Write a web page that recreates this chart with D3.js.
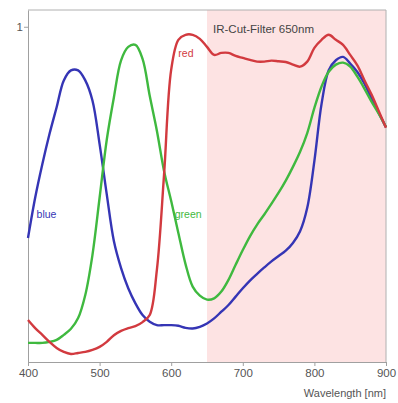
<html lang="en">
  <head>
    <title>IR-Cut-Filter</title>
    <script src="https://cdn.jsdelivr.net/npm/d3@7"></script>
    <style>
      body { margin: 0; background: #fff; }
      text { font-family: 'Liberation Sans', Arial, sans-serif; }
    </style>
  </head>
  <body>
    <div id="container"></div>
    <script>
      // wavelength grid, 400..900 nm in 10 nm steps
      const wavelengths = [400, 410, 420, 430, 440, 450, 460, 470, 480, 490,
        500, 510, 520, 530, 540, 550, 560, 570, 580, 590,
        600, 610, 620, 630, 640, 650, 660, 670, 680, 690,
        700, 710, 720, 730, 740, 750, 760, 770, 780, 790,
        800, 810, 820, 830, 840, 850, 860, 870, 880, 890, 900]

      const blueValues = [.37, .49, .59, .68, .76, .84, .87, .87, .84, .78,
        .65, .50, .36, .28, .22, .175, .14, .12, .11, .11,
        .11, .108, .102, .10, .105, .115, .13, .15, .17, .195,
        .22, .243, .263, .282, .30, .316, .332, .355, .39, .46,
        .60, .77, .87, .90, .91, .89, .865, .83, .785, .742, .70]

      const greenValues = [.057, .057, .057, .060, .066, .081, .099, .131, .200, .319,
        .490, .663, .790, .900, .940, .946, .904, .794, .690, .570,
        .480, .385, .292, .225, .198, .186, .190, .210, .245, .290,
        .334, .375, .410, .440, .472, .505, .541, .582, .627, .683,
        .758, .822, .866, .887, .893, .881, .851, .815, .776, .740, .701]

      const redValues = [.125, .101, .081, .060, .042, .030, .024, .027, .030, .036,
        .045, .060, .080, .093, .101, .107, .119, .140, .275, .558,
        .872, .961, .976, .976, .964, .940, .916, .922, .922, .913,
        .907, .901, .896, .896, .899, .897, .895, .887, .881, .896,
        .937, .961, .976, .961, .946, .916, .885, .840, .797, .748, .699]

      const xTicks = [400, 500, 600, 700, 800, 900]
      const yTicks = [1]
      const filterStart = 650

      const series = [
        { name: 'blue', values: blueValues, color: '#3535b5', labelAt: [412, 0.43] },
        { name: 'green', values: greenValues, color: '#3fb93f', labelAt: [605, 0.43] },
        { name: 'red', values: redValues, color: '#d23a3f', labelAt: [610, 0.91] }
      ]

      const width = 398, height = 403
      const margin = { top: 10, right: 12, bottom: 41, left: 28 }

      const svg = d3.select('#container').append('svg')
        .attr('width', width)
        .attr('height', height)

      const x = d3.scaleLinear()
        .domain([400, 900])
        .range([margin.left, width - margin.right])
      const y = d3.scaleLinear()
        .domain([0, 1.05])
        .range([height - margin.bottom, margin.top])

      // pink IR filter band
      svg.append('rect')
        .attr('x', x(filterStart))
        .attr('y', y(1.05))
        .attr('width', x(900) - x(filterStart))
        .attr('height', y(0) - y(1.05))
        .attr('fill', '#fde3e3')

      // frame (top + right)
      svg.append('path')
        .attr('d', `M${x(400)},${y(1.05)}H${x(900)}V${y(0)}`)
        .attr('fill', 'none')
        .attr('stroke', '#b0b0b0')
        .attr('stroke-width', 1)

      // axes
      const xAxis = svg.append('g')
        .attr('transform', `translate(0,${y(0)})`)
        .call(d3.axisBottom(x).tickValues(xTicks).tickSize(4).tickSizeOuter(0))
      const yAxis = svg.append('g')
        .attr('transform', `translate(${x(400)},0)`)
        .call(d3.axisLeft(y).tickValues(yTicks).tickSize(4).tickSizeOuter(0).tickFormat(d3.format('d')))
      ;[xAxis, yAxis].forEach(a => {
        a.select('.domain').attr('stroke', '#a0a0a0')
        a.selectAll('.tick line').attr('stroke', '#a0a0a0')
        a.selectAll('.tick text')
          .attr('fill', '#555')
          .attr('font-size', 11.5)
          .attr('font-family', "'Liberation Sans', Arial, sans-serif")
      })
      yAxis.selectAll('.tick text').attr('x', -5)

      // spectral curves
      const line = d3.line()
        .x((d, i) => x(wavelengths[i]))
        .y(d => y(d))
        .curve(d3.curveCatmullRom)

      series.forEach(s => {
        svg.append('path')
          .datum(s.values)
          .attr('d', line)
          .attr('fill', 'none')
          .attr('stroke', s.color)
          .attr('stroke-width', 2.4)
          .attr('stroke-linejoin', 'round')
        svg.append('text')
          .attr('x', x(s.labelAt[0]))
          .attr('y', y(s.labelAt[1]))
          .attr('fill', s.color)
          .attr('font-size', 10.5)
          .text(s.name)
      })

      // annotations
      svg.append('text')
        .attr('x', x(filterStart) + 6)
        .attr('y', 33)
        .attr('fill', '#444')
        .attr('font-size', 11.5)
        .text('IR-Cut-Filter 650nm')

      svg.append('text')
        .attr('x', x(900))
        .attr('y', 397)
        .attr('text-anchor', 'end')
        .attr('fill', '#555')
        .attr('font-size', 11)
        .text('Wavelength [nm]')
    </script>
  </body>
</html>
